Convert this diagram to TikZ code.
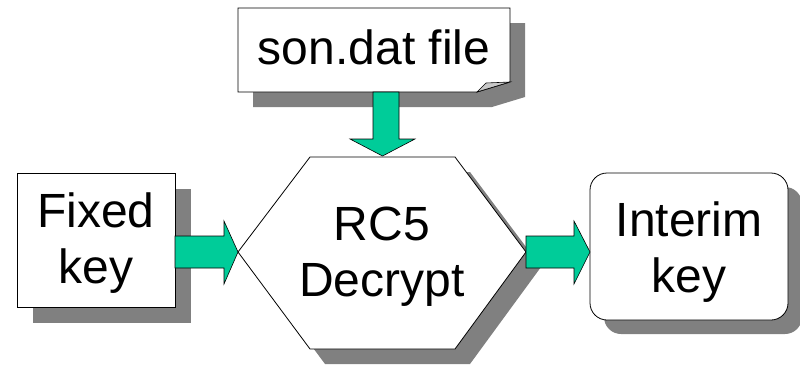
\documentclass[tikz,border=0pt]{standalone}
\usepackage{fontspec}
\setmainfont{Liberation Sans}
\usetikzlibrary{calc}
\definecolor{arrowgreen}{HTML}{00CC99}
\definecolor{shadowgray}{HTML}{808080}
\definecolor{foldgray}{HTML}{C8C8C8}
\tikzset{
  label text/.style={font=\fontsize{48}{56}\selectfont, align=center, inner sep=0pt},
  shadow/.style={fill=shadowgray, draw=none},
  outline/.style={draw=black, line width=0.8pt, fill=white},
  blockarrow/.style={fill=arrowgreen, draw=black, line width=0.6pt, line join=miter},
}
\begin{document}
\begin{tikzpicture}[x=1pt,y=-1pt]
\useasboundingbox (0,0) rectangle (800,364);

% ---- shadows ----
\fill[shadow] (253,23) -- (525,23) -- (525,97) -- (492,107) -- (253,107) -- cycle;
\fill[shadow] (33,189) rectangle (191,323);
\fill[shadow, rounded corners=17pt] (604,187) rectangle (802,334);
\fill[shadow] (325,172) -- (470,172) -- (541,267) -- (470,364) -- (325,364) -- (253,267) -- cycle;

% ---- son.dat file (page with curled corner) ----
\draw[outline] (238,8) -- (510,8) -- (510,82) -- (477,92) -- (238,92) -- cycle;
\draw[fill=foldgray, draw=black, line width=0.6pt] (477,92) -- (486,83) -- (510,82) -- cycle;
\node[label text] (son) at (374,47) {son.dat file};

% ---- Fixed key ----
\draw[outline] (17,173) rectangle (175,307);
\coordinate (fixE) at (175,252);
\node[label text] (fix) at (96,243) {Fixed\\key};

% ---- RC5 Decrypt hexagon ----
\draw[outline] (310,157) -- (455,157) -- (526,252) -- (455,349) -- (310,349) -- (238,252) -- cycle;
\coordinate (hexW) at (238,252);
\coordinate (hexE) at (526,252);
\coordinate (hexN) at (382.5,156);
\node[label text] (rc5) at (382,257) {RC5\\Decrypt};

% ---- Interim key ----
\draw[outline, rounded corners=17pt] (590,173) rectangle (788,320);
\coordinate (intW) at (590,252);
\node[label text] (int) at (689,252) {Interim\\key};

% ---- block arrows ----
\coordinate (sonS) at (386,92);
\draw[blockarrow] ($(sonS)+(-13,0)$) -- ($(sonS)+(13,0)$) -- ($(hexN)+(16.5,-17)$)
  -- ($(hexN)+(32.5,-17)$) -- (hexN) -- ($(hexN)+(-32.5,-17)$) -- ($(hexN)+(-9.5,-17)$) -- cycle;
\draw[blockarrow] ($(fixE)+(0,-16)$) -- ($(hexW)+(-14,-16)$) -- ($(hexW)+(-14,-31)$)
  -- (hexW) -- ($(hexW)+(-14,32)$) -- ($(hexW)+(-14,16)$) -- ($(fixE)+(0,16)$) -- cycle;
\draw[blockarrow] ($(hexE)+(0,-16)$) -- ($(intW)+(-16,-16)$) -- ($(intW)+(-16,-31)$)
  -- (intW) -- ($(intW)+(-16,32)$) -- ($(intW)+(-16,16)$) -- ($(hexE)+(0,16)$) -- cycle;
\end{tikzpicture}
\end{document}
